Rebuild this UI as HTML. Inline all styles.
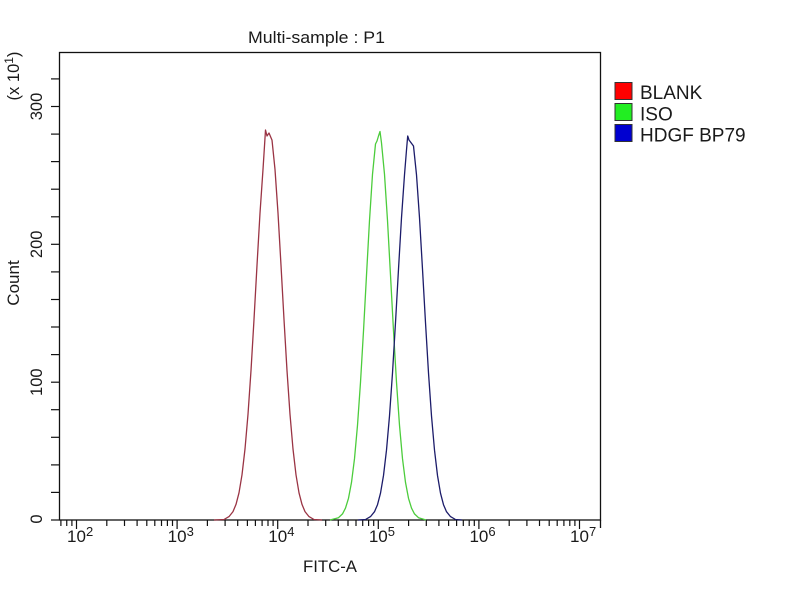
<!DOCTYPE html>
<html>
<head>
<meta charset="utf-8">
<style>
html,body{margin:0;padding:0;background:#fff;}
svg{display:block;}
text{font-family:"Liberation Sans",Arial,sans-serif;fill:#1a1a1a;}
</style>
</head>
<body>
<svg width="800" height="600" viewBox="0 0 800 600" xmlns="http://www.w3.org/2000/svg">
<rect x="0" y="0" width="800" height="600" fill="#fff"/>
<text x="248" y="43" font-size="16.5" textLength="137" lengthAdjust="spacingAndGlyphs">Multi-sample : P1</text>
<rect x="59.5" y="52.5" width="541" height="467.5" fill="none" stroke="#111" stroke-width="1.3"/>
<line x1="600.5" y1="520" x2="600.5" y2="528" stroke="#111" stroke-width="1.3"/>
<g stroke="#111" stroke-width="1.2">
<line x1="51" y1="520" x2="59.5" y2="520"/>
<line x1="51" y1="492.4" x2="59.5" y2="492.4"/>
<line x1="51" y1="464.9" x2="59.5" y2="464.9"/>
<line x1="51" y1="437.3" x2="59.5" y2="437.3"/>
<line x1="51" y1="409.7" x2="59.5" y2="409.7"/>
<line x1="51" y1="382.2" x2="59.5" y2="382.2"/>
<line x1="51" y1="354.6" x2="59.5" y2="354.6"/>
<line x1="51" y1="327" x2="59.5" y2="327"/>
<line x1="51" y1="299.5" x2="59.5" y2="299.5"/>
<line x1="51" y1="271.9" x2="59.5" y2="271.9"/>
<line x1="51" y1="244.3" x2="59.5" y2="244.3"/>
<line x1="51" y1="216.8" x2="59.5" y2="216.8"/>
<line x1="51" y1="189.2" x2="59.5" y2="189.2"/>
<line x1="51" y1="161.6" x2="59.5" y2="161.6"/>
<line x1="51" y1="134.1" x2="59.5" y2="134.1"/>
<line x1="51" y1="106.5" x2="59.5" y2="106.5"/>
<line x1="51" y1="78.9" x2="59.5" y2="78.9"/>
</g>
<g font-size="16.5" text-anchor="middle">
<text transform="translate(42,519) rotate(-90)">0</text>
<text transform="translate(42,382.2) rotate(-90)">100</text>
<text transform="translate(42,244.3) rotate(-90)">200</text>
<text transform="translate(42,106.5) rotate(-90)">300</text>
</g>
<text transform="translate(19,283) rotate(-90)" font-size="17" text-anchor="middle">Count</text>
<text transform="translate(19,76) rotate(-90)" font-size="16.5" text-anchor="middle">(x 10<tspan font-size="12" dy="-6">1</tspan><tspan dy="6">)</tspan></text>
<g stroke="#111" stroke-width="1.2">
<line x1="76.5" y1="520" x2="76.5" y2="529"/>
<line x1="177.1" y1="520" x2="177.1" y2="529"/>
<line x1="277.7" y1="520" x2="277.7" y2="529"/>
<line x1="378.3" y1="520" x2="378.3" y2="529"/>
<line x1="478.9" y1="520" x2="478.9" y2="529"/>
<line x1="579.5" y1="520" x2="579.5" y2="529"/>
<line x1="60.9" y1="520" x2="60.9" y2="526"/>
<line x1="66.75" y1="520" x2="66.75" y2="526"/>
<line x1="71.9" y1="520" x2="71.9" y2="526"/>
<line x1="106.8" y1="520" x2="106.8" y2="526"/>
<line x1="124.5" y1="520" x2="124.5" y2="526"/>
<line x1="137.1" y1="520" x2="137.1" y2="526"/>
<line x1="146.8" y1="520" x2="146.8" y2="526"/>
<line x1="154.8" y1="520" x2="154.8" y2="526"/>
<line x1="161.5" y1="520" x2="161.5" y2="526"/>
<line x1="167.4" y1="520" x2="167.4" y2="526"/>
<line x1="172.5" y1="520" x2="172.5" y2="526"/>
<line x1="207.4" y1="520" x2="207.4" y2="526"/>
<line x1="225.1" y1="520" x2="225.1" y2="526"/>
<line x1="237.7" y1="520" x2="237.7" y2="526"/>
<line x1="247.4" y1="520" x2="247.4" y2="526"/>
<line x1="255.4" y1="520" x2="255.4" y2="526"/>
<line x1="262.1" y1="520" x2="262.1" y2="526"/>
<line x1="268.0" y1="520" x2="268.0" y2="526"/>
<line x1="273.1" y1="520" x2="273.1" y2="526"/>
<line x1="308.0" y1="520" x2="308.0" y2="526"/>
<line x1="325.7" y1="520" x2="325.7" y2="526"/>
<line x1="338.3" y1="520" x2="338.3" y2="526"/>
<line x1="348.0" y1="520" x2="348.0" y2="526"/>
<line x1="356.0" y1="520" x2="356.0" y2="526"/>
<line x1="362.7" y1="520" x2="362.7" y2="526"/>
<line x1="368.6" y1="520" x2="368.6" y2="526"/>
<line x1="373.7" y1="520" x2="373.7" y2="526"/>
<line x1="408.6" y1="520" x2="408.6" y2="526"/>
<line x1="426.3" y1="520" x2="426.3" y2="526"/>
<line x1="438.9" y1="520" x2="438.9" y2="526"/>
<line x1="448.6" y1="520" x2="448.6" y2="526"/>
<line x1="456.6" y1="520" x2="456.6" y2="526"/>
<line x1="463.3" y1="520" x2="463.3" y2="526"/>
<line x1="469.2" y1="520" x2="469.2" y2="526"/>
<line x1="474.3" y1="520" x2="474.3" y2="526"/>
<line x1="509.2" y1="520" x2="509.2" y2="526"/>
<line x1="526.9" y1="520" x2="526.9" y2="526"/>
<line x1="539.5" y1="520" x2="539.5" y2="526"/>
<line x1="549.2" y1="520" x2="549.2" y2="526"/>
<line x1="557.2" y1="520" x2="557.2" y2="526"/>
<line x1="563.9" y1="520" x2="563.9" y2="526"/>
<line x1="569.8" y1="520" x2="569.8" y2="526"/>
<line x1="574.9" y1="520" x2="574.9" y2="526"/>
</g>
<g font-size="17" text-anchor="middle">
<text x="76.5" y="542">10</text>
<text x="177.1" y="542">10</text>
<text x="277.7" y="542">10</text>
<text x="378.3" y="542">10</text>
<text x="478.9" y="542">10</text>
<text x="579.5" y="542">10</text>
</g>
<g font-size="13">
<text x="86" y="536">2</text>
<text x="186.6" y="536">3</text>
<text x="287.2" y="536">4</text>
<text x="387.8" y="536">5</text>
<text x="488.4" y="536">6</text>
<text x="589" y="536">7</text>
</g>
<text x="303" y="572" font-size="17" textLength="54" lengthAdjust="spacingAndGlyphs">FITC-A</text>
<polyline fill="none" stroke="#9a3444" stroke-width="1.3" stroke-linejoin="round" points="214,520 224,519.5 229,516.6 233,511.6 236,504.4 239,492.8 242,474.8 245,449 248,414.3 251,370.6 254,319.5 257,265.3 260,213.1 263,169.4 265,138 265.5,130 267,136 269,133 272,140.1 275,169.4 278,213.1 281,265.3 284,319.5 287,370.6 290,414.3 293,449 296,474.8 299,492.8 302,504.4 305,511.6 309,516.6 314,519.5 322,520"/>
<polyline fill="none" stroke="#4ccc3c" stroke-width="1.3" stroke-linejoin="round" points="330,520 338.5,517.7 342.5,513.9 345.5,508.1 348.5,498.3 351.5,482.4 354.5,458.7 357.5,425.3 360.5,382.3 363.5,331 366.5,275.2 369.5,220.5 372.5,174.3 375.5,144 377,141 378.5,136 380,131.5 381.5,142.9 384.5,174.3 387.5,220.5 390.5,275.2 393.5,331 396.5,382.3 399.5,425.3 402.5,458.7 405.5,482.4 408.5,498.3 411.5,508.1 414.5,513.9 418.5,517.7 426,520"/>
<polyline fill="none" stroke="#1c1c6a" stroke-width="1.3" stroke-linejoin="round" points="358,520 365.5,519.5 370.5,516.6 374.5,511.7 377.5,504.7 380.5,493.2 383.5,475.5 386.5,450.1 389.5,415.9 392.5,372.9 395.5,322.6 398.5,269.2 401.5,217.8 404.5,174.8 406.5,150 407.7,136 409,140 410.5,142 413.5,146 416.5,174.8 419.5,217.8 422.5,269.2 425.5,322.6 428.5,372.9 431.5,415.9 434.5,450.1 437.5,475.5 440.5,493.2 443.5,504.7 446.5,511.7 450.5,516.6 455.5,519.5 462,520"/>
<rect x="615" y="82.5" width="17" height="17" fill="#ff0000" stroke="#333" stroke-width="1"/>
<rect x="615" y="103.5" width="17" height="17" fill="#22ee22" stroke="#333" stroke-width="1"/>
<rect x="615" y="124.5" width="17" height="17" fill="#0000d0" stroke="#333" stroke-width="1"/>
<g font-size="19">
<text x="640" y="99">BLANK</text>
<text x="640" y="120.5">ISO</text>
<text x="640" y="141.5">HDGF BP79</text>
</g>
</svg>
</body>
</html>
